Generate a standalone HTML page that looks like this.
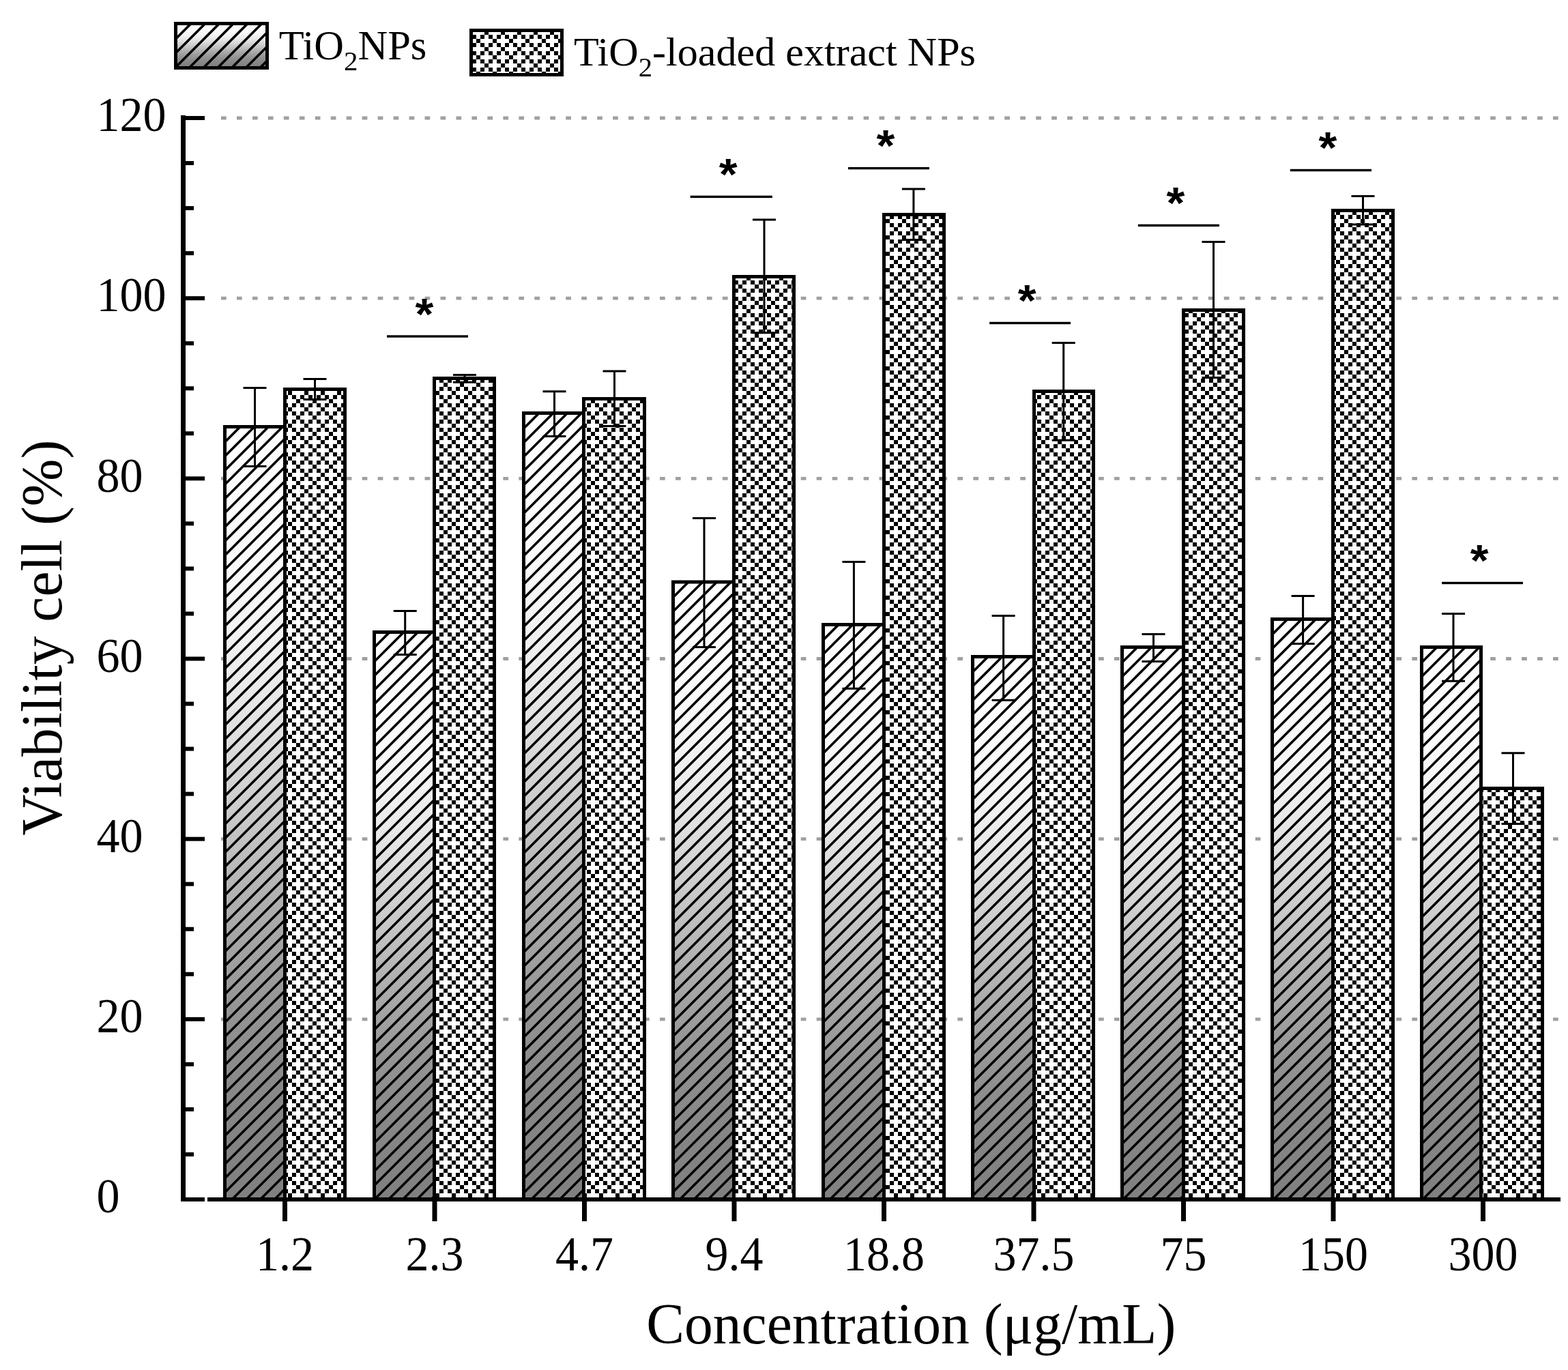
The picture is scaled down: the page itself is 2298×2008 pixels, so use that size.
<!DOCTYPE html><html><head><meta charset="utf-8"><title>Viability chart</title><style>html,body{margin:0;padding:0;background:#fff;overflow:hidden}svg{display:block}</style></head><body>
<svg width="2298" height="2008" viewBox="0 0 2298 2008">
<defs>
<linearGradient id="g" x1="0" y1="0" x2="0" y2="1"><stop offset="0.000" stop-color="#ffffff"/><stop offset="0.050" stop-color="#fefefe"/><stop offset="0.100" stop-color="#fdfdfd"/><stop offset="0.150" stop-color="#fbfbfb"/><stop offset="0.200" stop-color="#f9f9f9"/><stop offset="0.250" stop-color="#f5f5f5"/><stop offset="0.300" stop-color="#efefef"/><stop offset="0.350" stop-color="#e8e8e8"/><stop offset="0.400" stop-color="#dfdfdf"/><stop offset="0.450" stop-color="#d5d5d5"/><stop offset="0.500" stop-color="#cacaca"/><stop offset="0.550" stop-color="#bfbfbf"/><stop offset="0.600" stop-color="#b3b3b3"/><stop offset="0.650" stop-color="#a8a8a8"/><stop offset="0.700" stop-color="#9e9e9e"/><stop offset="0.750" stop-color="#959595"/><stop offset="0.800" stop-color="#8e8e8e"/><stop offset="0.850" stop-color="#898989"/><stop offset="0.900" stop-color="#858585"/><stop offset="0.950" stop-color="#828282"/><stop offset="1.000" stop-color="#808080"/></linearGradient>
<pattern id="ck" patternUnits="userSpaceOnUse" x="2" y="9" width="24" height="24"><rect width="24" height="24" fill="#fff"/><path d="M0 0h6v6H0zM6 6h6v6H6zM18 6h6v6h-6zM12 12h6v6h-6zM6 18h6v6H6zM18 18h6v6h-6z" fill="#000"/></pattern>
</defs>
<rect width="100%" height="100%" fill="#fff"/>
<line x1="324" y1="1493.83" x2="2286" y2="1493.83" stroke="#a0a0a0" stroke-width="4.8" stroke-dasharray="7.7 15.265"/>
<line x1="324" y1="1229.67" x2="2286" y2="1229.67" stroke="#a0a0a0" stroke-width="4.8" stroke-dasharray="7.7 15.265"/>
<line x1="324" y1="965.50" x2="2286" y2="965.50" stroke="#a0a0a0" stroke-width="4.8" stroke-dasharray="7.7 15.265"/>
<line x1="324" y1="701.34" x2="2286" y2="701.34" stroke="#a0a0a0" stroke-width="4.8" stroke-dasharray="7.7 15.265"/>
<line x1="324" y1="437.17" x2="2286" y2="437.17" stroke="#a0a0a0" stroke-width="4.8" stroke-dasharray="7.7 15.265"/>
<line x1="324" y1="173.00" x2="2286" y2="173.00" stroke="#a0a0a0" stroke-width="4.8" stroke-dasharray="7.7 15.265"/>
<rect x="329.5" y="625.5" width="88.0" height="1132.0" fill="url(#g)"/>
<clipPath id="c0"><rect x="329.5" y="625.5" width="88.0" height="1132.0"/></clipPath>
<path clip-path="url(#c0)" d="M-846.2 1761.5L293.8 621.5M-825.5 1761.5L314.5 621.5M-804.8 1761.5L335.2 621.5M-784.0 1761.5L356.0 621.5M-763.2 1761.5L376.8 621.5M-742.5 1761.5L397.5 621.5M-721.8 1761.5L418.2 621.5M-701.0 1761.5L439.0 621.5M-680.2 1761.5L459.8 621.5M-659.5 1761.5L480.5 621.5M-638.8 1761.5L501.2 621.5M-618.0 1761.5L522.0 621.5M-597.2 1761.5L542.8 621.5M-576.5 1761.5L563.5 621.5M-555.8 1761.5L584.2 621.5M-535.0 1761.5L605.0 621.5M-514.2 1761.5L625.8 621.5M-493.5 1761.5L646.5 621.5M-472.8 1761.5L667.2 621.5M-452.0 1761.5L688.0 621.5M-431.2 1761.5L708.8 621.5M-410.5 1761.5L729.5 621.5M-389.8 1761.5L750.2 621.5M-369.0 1761.5L771.0 621.5M-348.2 1761.5L791.8 621.5M-327.5 1761.5L812.5 621.5M-306.8 1761.5L833.2 621.5M-286.0 1761.5L854.0 621.5M-265.2 1761.5L874.8 621.5M-244.5 1761.5L895.5 621.5M-223.8 1761.5L916.2 621.5M-203.0 1761.5L937.0 621.5M-182.2 1761.5L957.8 621.5M-161.5 1761.5L978.5 621.5M-140.8 1761.5L999.2 621.5M-120.0 1761.5L1020.0 621.5M-99.2 1761.5L1040.8 621.5M-78.5 1761.5L1061.5 621.5M-57.8 1761.5L1082.2 621.5M-37.0 1761.5L1103.0 621.5M-16.2 1761.5L1123.8 621.5M4.5 1761.5L1144.5 621.5M25.2 1761.5L1165.2 621.5M46.0 1761.5L1186.0 621.5M66.8 1761.5L1206.8 621.5M87.5 1761.5L1227.5 621.5M108.2 1761.5L1248.2 621.5M129.0 1761.5L1269.0 621.5M149.8 1761.5L1289.8 621.5M170.5 1761.5L1310.5 621.5M191.2 1761.5L1331.2 621.5M212.0 1761.5L1352.0 621.5M232.8 1761.5L1372.8 621.5M253.5 1761.5L1393.5 621.5M274.2 1761.5L1414.2 621.5M295.0 1761.5L1435.0 621.5M315.8 1761.5L1455.8 621.5M336.5 1761.5L1476.5 621.5M357.2 1761.5L1497.2 621.5M378.0 1761.5L1518.0 621.5M398.8 1761.5L1538.8 621.5M419.5 1761.5L1559.5 621.5M440.2 1761.5L1580.2 621.5" stroke="#000" stroke-width="3.6"/>
<rect x="329.5" y="625.5" width="88.0" height="1132.0" fill="none" stroke="#000" stroke-width="5"/>
<rect x="417.5" y="570.5" width="88.0" height="1187.0" fill="url(#ck)"/>
<rect x="417.5" y="570.5" width="88.0" height="1187.0" fill="none" stroke="#000" stroke-width="5"/>
<rect x="548.5" y="926.5" width="88.0" height="831.0" fill="url(#g)"/>
<clipPath id="c2"><rect x="548.5" y="926.5" width="88.0" height="831.0"/></clipPath>
<path clip-path="url(#c2)" d="M-326.2 1761.5L512.8 922.5M-305.5 1761.5L533.5 922.5M-284.8 1761.5L554.2 922.5M-264.0 1761.5L575.0 922.5M-243.2 1761.5L595.8 922.5M-222.5 1761.5L616.5 922.5M-201.8 1761.5L637.2 922.5M-181.0 1761.5L658.0 922.5M-160.2 1761.5L678.8 922.5M-139.5 1761.5L699.5 922.5M-118.8 1761.5L720.2 922.5M-98.0 1761.5L741.0 922.5M-77.2 1761.5L761.8 922.5M-56.5 1761.5L782.5 922.5M-35.8 1761.5L803.2 922.5M-15.0 1761.5L824.0 922.5M5.8 1761.5L844.8 922.5M26.5 1761.5L865.5 922.5M47.2 1761.5L886.2 922.5M68.0 1761.5L907.0 922.5M88.8 1761.5L927.8 922.5M109.5 1761.5L948.5 922.5M130.2 1761.5L969.2 922.5M151.0 1761.5L990.0 922.5M171.8 1761.5L1010.8 922.5M192.5 1761.5L1031.5 922.5M213.2 1761.5L1052.2 922.5M234.0 1761.5L1073.0 922.5M254.8 1761.5L1093.8 922.5M275.5 1761.5L1114.5 922.5M296.2 1761.5L1135.2 922.5M317.0 1761.5L1156.0 922.5M337.8 1761.5L1176.8 922.5M358.5 1761.5L1197.5 922.5M379.2 1761.5L1218.2 922.5M400.0 1761.5L1239.0 922.5M420.8 1761.5L1259.8 922.5M441.5 1761.5L1280.5 922.5M462.2 1761.5L1301.2 922.5M483.0 1761.5L1322.0 922.5M503.8 1761.5L1342.8 922.5M524.5 1761.5L1363.5 922.5M545.2 1761.5L1384.2 922.5M566.0 1761.5L1405.0 922.5M586.8 1761.5L1425.8 922.5M607.5 1761.5L1446.5 922.5M628.2 1761.5L1467.2 922.5M649.0 1761.5L1488.0 922.5M669.8 1761.5L1508.8 922.5" stroke="#000" stroke-width="3.6"/>
<rect x="548.5" y="926.5" width="88.0" height="831.0" fill="none" stroke="#000" stroke-width="5"/>
<rect x="636.5" y="554.5" width="88.0" height="1203.0" fill="url(#ck)"/>
<rect x="636.5" y="554.5" width="88.0" height="1203.0" fill="none" stroke="#000" stroke-width="5"/>
<rect x="767.5" y="605.5" width="88.0" height="1152.0" fill="url(#g)"/>
<clipPath id="c4"><rect x="767.5" y="605.5" width="88.0" height="1152.0"/></clipPath>
<path clip-path="url(#c4)" d="M-428.2 1761.5L731.8 601.5M-407.5 1761.5L752.5 601.5M-386.8 1761.5L773.2 601.5M-366.0 1761.5L794.0 601.5M-345.2 1761.5L814.8 601.5M-324.5 1761.5L835.5 601.5M-303.8 1761.5L856.2 601.5M-283.0 1761.5L877.0 601.5M-262.2 1761.5L897.8 601.5M-241.5 1761.5L918.5 601.5M-220.8 1761.5L939.2 601.5M-200.0 1761.5L960.0 601.5M-179.2 1761.5L980.8 601.5M-158.5 1761.5L1001.5 601.5M-137.8 1761.5L1022.2 601.5M-117.0 1761.5L1043.0 601.5M-96.2 1761.5L1063.8 601.5M-75.5 1761.5L1084.5 601.5M-54.8 1761.5L1105.2 601.5M-34.0 1761.5L1126.0 601.5M-13.2 1761.5L1146.8 601.5M7.5 1761.5L1167.5 601.5M28.2 1761.5L1188.2 601.5M49.0 1761.5L1209.0 601.5M69.8 1761.5L1229.8 601.5M90.5 1761.5L1250.5 601.5M111.2 1761.5L1271.2 601.5M132.0 1761.5L1292.0 601.5M152.8 1761.5L1312.8 601.5M173.5 1761.5L1333.5 601.5M194.2 1761.5L1354.2 601.5M215.0 1761.5L1375.0 601.5M235.8 1761.5L1395.8 601.5M256.5 1761.5L1416.5 601.5M277.2 1761.5L1437.2 601.5M298.0 1761.5L1458.0 601.5M318.8 1761.5L1478.8 601.5M339.5 1761.5L1499.5 601.5M360.2 1761.5L1520.2 601.5M381.0 1761.5L1541.0 601.5M401.8 1761.5L1561.8 601.5M422.5 1761.5L1582.5 601.5M443.2 1761.5L1603.2 601.5M464.0 1761.5L1624.0 601.5M484.8 1761.5L1644.8 601.5M505.5 1761.5L1665.5 601.5M526.2 1761.5L1686.2 601.5M547.0 1761.5L1707.0 601.5M567.8 1761.5L1727.8 601.5M588.5 1761.5L1748.5 601.5M609.2 1761.5L1769.2 601.5M630.0 1761.5L1790.0 601.5M650.8 1761.5L1810.8 601.5M671.5 1761.5L1831.5 601.5M692.2 1761.5L1852.2 601.5M713.0 1761.5L1873.0 601.5M733.8 1761.5L1893.8 601.5M754.5 1761.5L1914.5 601.5M775.2 1761.5L1935.2 601.5M796.0 1761.5L1956.0 601.5M816.8 1761.5L1976.8 601.5M837.5 1761.5L1997.5 601.5M858.2 1761.5L2018.2 601.5M879.0 1761.5L2039.0 601.5" stroke="#000" stroke-width="3.6"/>
<rect x="767.5" y="605.5" width="88.0" height="1152.0" fill="none" stroke="#000" stroke-width="5"/>
<rect x="855.5" y="584.5" width="89.0" height="1173.0" fill="url(#ck)"/>
<rect x="855.5" y="584.5" width="89.0" height="1173.0" fill="none" stroke="#000" stroke-width="5"/>
<rect x="986.5" y="853.0" width="89.0" height="904.5" fill="url(#g)"/>
<clipPath id="c6"><rect x="986.5" y="853.0" width="89.0" height="904.5"/></clipPath>
<path clip-path="url(#c6)" d="M38.2 1761.5L950.8 849.0M59.0 1761.5L971.5 849.0M79.8 1761.5L992.2 849.0M100.5 1761.5L1013.0 849.0M121.2 1761.5L1033.8 849.0M142.0 1761.5L1054.5 849.0M162.8 1761.5L1075.2 849.0M183.5 1761.5L1096.0 849.0M204.2 1761.5L1116.8 849.0M225.0 1761.5L1137.5 849.0M245.8 1761.5L1158.2 849.0M266.5 1761.5L1179.0 849.0M287.2 1761.5L1199.8 849.0M308.0 1761.5L1220.5 849.0M328.8 1761.5L1241.2 849.0M349.5 1761.5L1262.0 849.0M370.2 1761.5L1282.8 849.0M391.0 1761.5L1303.5 849.0M411.8 1761.5L1324.2 849.0M432.5 1761.5L1345.0 849.0M453.2 1761.5L1365.8 849.0M474.0 1761.5L1386.5 849.0M494.8 1761.5L1407.2 849.0M515.5 1761.5L1428.0 849.0M536.2 1761.5L1448.8 849.0M557.0 1761.5L1469.5 849.0M577.8 1761.5L1490.2 849.0M598.5 1761.5L1511.0 849.0M619.2 1761.5L1531.8 849.0M640.0 1761.5L1552.5 849.0M660.8 1761.5L1573.2 849.0M681.5 1761.5L1594.0 849.0M702.2 1761.5L1614.8 849.0M723.0 1761.5L1635.5 849.0M743.8 1761.5L1656.2 849.0M764.5 1761.5L1677.0 849.0M785.2 1761.5L1697.8 849.0M806.0 1761.5L1718.5 849.0M826.8 1761.5L1739.2 849.0M847.5 1761.5L1760.0 849.0M868.2 1761.5L1780.8 849.0M889.0 1761.5L1801.5 849.0M909.8 1761.5L1822.2 849.0M930.5 1761.5L1843.0 849.0M951.2 1761.5L1863.8 849.0M972.0 1761.5L1884.5 849.0M992.8 1761.5L1905.2 849.0M1013.5 1761.5L1926.0 849.0M1034.2 1761.5L1946.8 849.0M1055.0 1761.5L1967.5 849.0M1075.8 1761.5L1988.2 849.0M1096.5 1761.5L2009.0 849.0" stroke="#000" stroke-width="3.6"/>
<rect x="986.5" y="853.0" width="89.0" height="904.5" fill="none" stroke="#000" stroke-width="5"/>
<rect x="1075.5" y="405.5" width="88.0" height="1352.0" fill="url(#ck)"/>
<rect x="1075.5" y="405.5" width="88.0" height="1352.0" fill="none" stroke="#000" stroke-width="5"/>
<rect x="1206.5" y="915.5" width="89.0" height="842.0" fill="url(#g)"/>
<clipPath id="c8"><rect x="1206.5" y="915.5" width="89.0" height="842.0"/></clipPath>
<path clip-path="url(#c8)" d="M320.8 1761.5L1170.8 911.5M341.5 1761.5L1191.5 911.5M362.2 1761.5L1212.2 911.5M383.0 1761.5L1233.0 911.5M403.8 1761.5L1253.8 911.5M424.5 1761.5L1274.5 911.5M445.2 1761.5L1295.2 911.5M466.0 1761.5L1316.0 911.5M486.8 1761.5L1336.8 911.5M507.5 1761.5L1357.5 911.5M528.2 1761.5L1378.2 911.5M549.0 1761.5L1399.0 911.5M569.8 1761.5L1419.8 911.5M590.5 1761.5L1440.5 911.5M611.2 1761.5L1461.2 911.5M632.0 1761.5L1482.0 911.5M652.8 1761.5L1502.8 911.5M673.5 1761.5L1523.5 911.5M694.2 1761.5L1544.2 911.5M715.0 1761.5L1565.0 911.5M735.8 1761.5L1585.8 911.5M756.5 1761.5L1606.5 911.5M777.2 1761.5L1627.2 911.5M798.0 1761.5L1648.0 911.5M818.8 1761.5L1668.8 911.5M839.5 1761.5L1689.5 911.5M860.2 1761.5L1710.2 911.5M881.0 1761.5L1731.0 911.5M901.8 1761.5L1751.8 911.5M922.5 1761.5L1772.5 911.5M943.2 1761.5L1793.2 911.5M964.0 1761.5L1814.0 911.5M984.8 1761.5L1834.8 911.5M1005.5 1761.5L1855.5 911.5M1026.2 1761.5L1876.2 911.5M1047.0 1761.5L1897.0 911.5M1067.8 1761.5L1917.8 911.5M1088.5 1761.5L1938.5 911.5M1109.2 1761.5L1959.2 911.5M1130.0 1761.5L1980.0 911.5M1150.8 1761.5L2000.8 911.5M1171.5 1761.5L2021.5 911.5M1192.2 1761.5L2042.2 911.5M1213.0 1761.5L2063.0 911.5M1233.8 1761.5L2083.8 911.5M1254.5 1761.5L2104.5 911.5M1275.2 1761.5L2125.2 911.5M1296.0 1761.5L2146.0 911.5M1316.8 1761.5L2166.8 911.5" stroke="#000" stroke-width="3.6"/>
<rect x="1206.5" y="915.5" width="89.0" height="842.0" fill="none" stroke="#000" stroke-width="5"/>
<rect x="1295.5" y="314.5" width="88.0" height="1443.0" fill="url(#ck)"/>
<rect x="1295.5" y="314.5" width="88.0" height="1443.0" fill="none" stroke="#000" stroke-width="5"/>
<rect x="1425.5" y="962.5" width="90.0" height="795.0" fill="url(#g)"/>
<clipPath id="c10"><rect x="1425.5" y="962.5" width="90.0" height="795.0"/></clipPath>
<path clip-path="url(#c10)" d="M586.8 1761.5L1389.8 958.5M607.5 1761.5L1410.5 958.5M628.2 1761.5L1431.2 958.5M649.0 1761.5L1452.0 958.5M669.8 1761.5L1472.8 958.5M690.5 1761.5L1493.5 958.5M711.2 1761.5L1514.2 958.5M732.0 1761.5L1535.0 958.5M752.8 1761.5L1555.8 958.5M773.5 1761.5L1576.5 958.5M794.2 1761.5L1597.2 958.5M815.0 1761.5L1618.0 958.5M835.8 1761.5L1638.8 958.5M856.5 1761.5L1659.5 958.5M877.2 1761.5L1680.2 958.5M898.0 1761.5L1701.0 958.5M918.8 1761.5L1721.8 958.5M939.5 1761.5L1742.5 958.5M960.2 1761.5L1763.2 958.5M981.0 1761.5L1784.0 958.5M1001.8 1761.5L1804.8 958.5M1022.5 1761.5L1825.5 958.5M1043.2 1761.5L1846.2 958.5M1064.0 1761.5L1867.0 958.5M1084.8 1761.5L1887.8 958.5M1105.5 1761.5L1908.5 958.5M1126.2 1761.5L1929.2 958.5M1147.0 1761.5L1950.0 958.5M1167.8 1761.5L1970.8 958.5M1188.5 1761.5L1991.5 958.5M1209.2 1761.5L2012.2 958.5M1230.0 1761.5L2033.0 958.5M1250.8 1761.5L2053.8 958.5M1271.5 1761.5L2074.5 958.5M1292.2 1761.5L2095.2 958.5M1313.0 1761.5L2116.0 958.5M1333.8 1761.5L2136.8 958.5M1354.5 1761.5L2157.5 958.5M1375.2 1761.5L2178.2 958.5M1396.0 1761.5L2199.0 958.5M1416.8 1761.5L2219.8 958.5M1437.5 1761.5L2240.5 958.5M1458.2 1761.5L2261.2 958.5M1479.0 1761.5L2282.0 958.5M1499.8 1761.5L2302.8 958.5M1520.5 1761.5L2323.5 958.5M1541.2 1761.5L2344.2 958.5" stroke="#000" stroke-width="3.6"/>
<rect x="1425.5" y="962.5" width="90.0" height="795.0" fill="none" stroke="#000" stroke-width="5"/>
<rect x="1515.5" y="573.5" width="87.0" height="1184.0" fill="url(#ck)"/>
<rect x="1515.5" y="573.5" width="87.0" height="1184.0" fill="none" stroke="#000" stroke-width="5"/>
<rect x="1644.5" y="948.5" width="90.0" height="809.0" fill="url(#g)"/>
<clipPath id="c12"><rect x="1644.5" y="948.5" width="90.0" height="809.0"/></clipPath>
<path clip-path="url(#c12)" d="M791.8 1761.5L1608.8 944.5M812.5 1761.5L1629.5 944.5M833.2 1761.5L1650.2 944.5M854.0 1761.5L1671.0 944.5M874.8 1761.5L1691.8 944.5M895.5 1761.5L1712.5 944.5M916.2 1761.5L1733.2 944.5M937.0 1761.5L1754.0 944.5M957.8 1761.5L1774.8 944.5M978.5 1761.5L1795.5 944.5M999.2 1761.5L1816.2 944.5M1020.0 1761.5L1837.0 944.5M1040.8 1761.5L1857.8 944.5M1061.5 1761.5L1878.5 944.5M1082.2 1761.5L1899.2 944.5M1103.0 1761.5L1920.0 944.5M1123.8 1761.5L1940.8 944.5M1144.5 1761.5L1961.5 944.5M1165.2 1761.5L1982.2 944.5M1186.0 1761.5L2003.0 944.5M1206.8 1761.5L2023.8 944.5M1227.5 1761.5L2044.5 944.5M1248.2 1761.5L2065.2 944.5M1269.0 1761.5L2086.0 944.5M1289.8 1761.5L2106.8 944.5M1310.5 1761.5L2127.5 944.5M1331.2 1761.5L2148.2 944.5M1352.0 1761.5L2169.0 944.5M1372.8 1761.5L2189.8 944.5M1393.5 1761.5L2210.5 944.5M1414.2 1761.5L2231.2 944.5M1435.0 1761.5L2252.0 944.5M1455.8 1761.5L2272.8 944.5M1476.5 1761.5L2293.5 944.5M1497.2 1761.5L2314.2 944.5M1518.0 1761.5L2335.0 944.5M1538.8 1761.5L2355.8 944.5M1559.5 1761.5L2376.5 944.5M1580.2 1761.5L2397.2 944.5M1601.0 1761.5L2418.0 944.5M1621.8 1761.5L2438.8 944.5M1642.5 1761.5L2459.5 944.5M1663.2 1761.5L2480.2 944.5M1684.0 1761.5L2501.0 944.5M1704.8 1761.5L2521.8 944.5M1725.5 1761.5L2542.5 944.5M1746.2 1761.5L2563.2 944.5M1767.0 1761.5L2584.0 944.5" stroke="#000" stroke-width="3.6"/>
<rect x="1644.5" y="948.5" width="90.0" height="809.0" fill="none" stroke="#000" stroke-width="5"/>
<rect x="1734.5" y="454.5" width="88.0" height="1303.0" fill="url(#ck)"/>
<rect x="1734.5" y="454.5" width="88.0" height="1303.0" fill="none" stroke="#000" stroke-width="5"/>
<rect x="1864.5" y="907.5" width="89.0" height="850.0" fill="url(#g)"/>
<clipPath id="c14"><rect x="1864.5" y="907.5" width="89.0" height="850.0"/></clipPath>
<path clip-path="url(#c14)" d="M970.8 1761.5L1828.8 903.5M991.5 1761.5L1849.5 903.5M1012.2 1761.5L1870.2 903.5M1033.0 1761.5L1891.0 903.5M1053.8 1761.5L1911.8 903.5M1074.5 1761.5L1932.5 903.5M1095.2 1761.5L1953.2 903.5M1116.0 1761.5L1974.0 903.5M1136.8 1761.5L1994.8 903.5M1157.5 1761.5L2015.5 903.5M1178.2 1761.5L2036.2 903.5M1199.0 1761.5L2057.0 903.5M1219.8 1761.5L2077.8 903.5M1240.5 1761.5L2098.5 903.5M1261.2 1761.5L2119.2 903.5M1282.0 1761.5L2140.0 903.5M1302.8 1761.5L2160.8 903.5M1323.5 1761.5L2181.5 903.5M1344.2 1761.5L2202.2 903.5M1365.0 1761.5L2223.0 903.5M1385.8 1761.5L2243.8 903.5M1406.5 1761.5L2264.5 903.5M1427.2 1761.5L2285.2 903.5M1448.0 1761.5L2306.0 903.5M1468.8 1761.5L2326.8 903.5M1489.5 1761.5L2347.5 903.5M1510.2 1761.5L2368.2 903.5M1531.0 1761.5L2389.0 903.5M1551.8 1761.5L2409.8 903.5M1572.5 1761.5L2430.5 903.5M1593.2 1761.5L2451.2 903.5M1614.0 1761.5L2472.0 903.5M1634.8 1761.5L2492.8 903.5M1655.5 1761.5L2513.5 903.5M1676.2 1761.5L2534.2 903.5M1697.0 1761.5L2555.0 903.5M1717.8 1761.5L2575.8 903.5M1738.5 1761.5L2596.5 903.5M1759.2 1761.5L2617.2 903.5M1780.0 1761.5L2638.0 903.5M1800.8 1761.5L2658.8 903.5M1821.5 1761.5L2679.5 903.5M1842.2 1761.5L2700.2 903.5M1863.0 1761.5L2721.0 903.5M1883.8 1761.5L2741.8 903.5M1904.5 1761.5L2762.5 903.5M1925.2 1761.5L2783.2 903.5M1946.0 1761.5L2804.0 903.5M1966.8 1761.5L2824.8 903.5M1987.5 1761.5L2845.5 903.5" stroke="#000" stroke-width="3.6"/>
<rect x="1864.5" y="907.5" width="89.0" height="850.0" fill="none" stroke="#000" stroke-width="5"/>
<rect x="1953.5" y="308.5" width="88.0" height="1449.0" fill="url(#ck)"/>
<rect x="1953.5" y="308.5" width="88.0" height="1449.0" fill="none" stroke="#000" stroke-width="5"/>
<rect x="2083.5" y="948.5" width="87.0" height="809.0" fill="url(#g)"/>
<clipPath id="c16"><rect x="2083.5" y="948.5" width="87.0" height="809.0"/></clipPath>
<path clip-path="url(#c16)" d="M1230.8 1761.5L2047.8 944.5M1251.5 1761.5L2068.5 944.5M1272.2 1761.5L2089.2 944.5M1293.0 1761.5L2110.0 944.5M1313.8 1761.5L2130.8 944.5M1334.5 1761.5L2151.5 944.5M1355.2 1761.5L2172.2 944.5M1376.0 1761.5L2193.0 944.5M1396.8 1761.5L2213.8 944.5M1417.5 1761.5L2234.5 944.5M1438.2 1761.5L2255.2 944.5M1459.0 1761.5L2276.0 944.5M1479.8 1761.5L2296.8 944.5M1500.5 1761.5L2317.5 944.5M1521.2 1761.5L2338.2 944.5M1542.0 1761.5L2359.0 944.5M1562.8 1761.5L2379.8 944.5M1583.5 1761.5L2400.5 944.5M1604.2 1761.5L2421.2 944.5M1625.0 1761.5L2442.0 944.5M1645.8 1761.5L2462.8 944.5M1666.5 1761.5L2483.5 944.5M1687.2 1761.5L2504.2 944.5M1708.0 1761.5L2525.0 944.5M1728.8 1761.5L2545.8 944.5M1749.5 1761.5L2566.5 944.5M1770.2 1761.5L2587.2 944.5M1791.0 1761.5L2608.0 944.5M1811.8 1761.5L2628.8 944.5M1832.5 1761.5L2649.5 944.5M1853.2 1761.5L2670.2 944.5M1874.0 1761.5L2691.0 944.5M1894.8 1761.5L2711.8 944.5M1915.5 1761.5L2732.5 944.5M1936.2 1761.5L2753.2 944.5M1957.0 1761.5L2774.0 944.5M1977.8 1761.5L2794.8 944.5M1998.5 1761.5L2815.5 944.5M2019.2 1761.5L2836.2 944.5M2040.0 1761.5L2857.0 944.5M2060.8 1761.5L2877.8 944.5M2081.5 1761.5L2898.5 944.5M2102.2 1761.5L2919.2 944.5M2123.0 1761.5L2940.0 944.5M2143.8 1761.5L2960.8 944.5M2164.5 1761.5L2981.5 944.5M2185.2 1761.5L3002.2 944.5M2206.0 1761.5L3023.0 944.5" stroke="#000" stroke-width="3.6"/>
<rect x="2083.5" y="948.5" width="87.0" height="809.0" fill="none" stroke="#000" stroke-width="5"/>
<rect x="2170.5" y="1155.5" width="90.0" height="602.0" fill="url(#ck)"/>
<rect x="2170.5" y="1155.5" width="90.0" height="602.0" fill="none" stroke="#000" stroke-width="5"/>
<path d="M373.5 568.5V683.4M356.5 568.5h34M356.5 683.4h34" stroke="#000" stroke-width="3" fill="none"/>
<path d="M593.7 895.6V959.5M576.7 895.6h34M576.7 959.5h34" stroke="#000" stroke-width="3" fill="none"/>
<path d="M812.5 573.7V639.5M795.5 573.7h34M795.5 639.5h34" stroke="#000" stroke-width="3" fill="none"/>
<path d="M1032.0 759.5V948.4M1015.0 759.5h34M1015.0 948.4h34" stroke="#000" stroke-width="3" fill="none"/>
<path d="M1251.4 823.5V1009.3M1234.4 823.5h34M1234.4 1009.3h34" stroke="#000" stroke-width="3" fill="none"/>
<path d="M1470.6 902.5V1026.3M1453.6 902.5h34M1453.6 1026.3h34" stroke="#000" stroke-width="3" fill="none"/>
<path d="M1690.5 929.6V969.6M1673.5 929.6h34M1673.5 969.6h34" stroke="#000" stroke-width="3" fill="none"/>
<path d="M1909.6 873.6V943.4M1892.6 873.6h34M1892.6 943.4h34" stroke="#000" stroke-width="3" fill="none"/>
<path d="M2130.0 899.5V998.3M2113.0 899.5h34M2113.0 998.3h34" stroke="#000" stroke-width="3" fill="none"/>
<path d="M461.5 555.5V585.6M444.5 555.5h34M444.5 585.6h34" stroke="#000" stroke-width="3" fill="none"/>
<path d="M681.0 549.5V560.2M664.0 549.5h34M664.0 560.2h34" stroke="#000" stroke-width="3" fill="none"/>
<path d="M900.5 544.1V624.5M883.5 544.1h34M883.5 624.5h34" stroke="#000" stroke-width="3" fill="none"/>
<path d="M1120.0 321.9V487.7M1103.0 321.9h34M1103.0 487.7h34" stroke="#000" stroke-width="3" fill="none"/>
<path d="M1338.9 276.9V351.5M1321.9 276.9h34M1321.9 351.5h34" stroke="#000" stroke-width="3" fill="none"/>
<path d="M1558.7 502.6V645.3M1541.7 502.6h34M1541.7 645.3h34" stroke="#000" stroke-width="3" fill="none"/>
<path d="M1778.5 354.4V553.4M1761.5 354.4h34M1761.5 553.4h34" stroke="#000" stroke-width="3" fill="none"/>
<path d="M1997.5 287.6V329.0M1980.5 287.6h34M1980.5 329.0h34" stroke="#000" stroke-width="3" fill="none"/>
<path d="M2217.5 1103.7V1207.5M2200.5 1103.7h34M2200.5 1207.5h34" stroke="#000" stroke-width="3" fill="none"/>
<rect x="265" y="169" width="7" height="1592" fill="#000"/>
<rect x="304" y="1755" width="1983" height="6" fill="#000"/>
<rect x="265" y="1755.00" width="35" height="6" fill="#000"/>
<rect x="265" y="1688.96" width="19" height="6" fill="#000"/>
<rect x="265" y="1622.92" width="19" height="6" fill="#000"/>
<rect x="265" y="1556.88" width="19" height="6" fill="#000"/>
<rect x="265" y="1490.83" width="35" height="6" fill="#000"/>
<rect x="265" y="1424.79" width="19" height="6" fill="#000"/>
<rect x="265" y="1358.75" width="19" height="6" fill="#000"/>
<rect x="265" y="1292.71" width="19" height="6" fill="#000"/>
<rect x="265" y="1226.67" width="35" height="6" fill="#000"/>
<rect x="265" y="1160.63" width="19" height="6" fill="#000"/>
<rect x="265" y="1094.59" width="19" height="6" fill="#000"/>
<rect x="265" y="1028.54" width="19" height="6" fill="#000"/>
<rect x="265" y="962.50" width="35" height="6" fill="#000"/>
<rect x="265" y="896.46" width="19" height="6" fill="#000"/>
<rect x="265" y="830.42" width="19" height="6" fill="#000"/>
<rect x="265" y="764.38" width="19" height="6" fill="#000"/>
<rect x="265" y="698.34" width="35" height="6" fill="#000"/>
<rect x="265" y="632.29" width="19" height="6" fill="#000"/>
<rect x="265" y="566.25" width="19" height="6" fill="#000"/>
<rect x="265" y="500.21" width="19" height="6" fill="#000"/>
<rect x="265" y="434.17" width="35" height="6" fill="#000"/>
<rect x="265" y="368.13" width="19" height="6" fill="#000"/>
<rect x="265" y="302.09" width="19" height="6" fill="#000"/>
<rect x="265" y="236.05" width="19" height="6" fill="#000"/>
<rect x="265" y="170.00" width="35" height="6" fill="#000"/>
<rect x="414.0" y="1755" width="7" height="35" fill="#000"/>
<rect x="633.5" y="1755" width="7" height="35" fill="#000"/>
<rect x="853.0" y="1755" width="7" height="35" fill="#000"/>
<rect x="1072.5" y="1755" width="7" height="35" fill="#000"/>
<rect x="1292.0" y="1755" width="7" height="35" fill="#000"/>
<rect x="1511.5" y="1755" width="7" height="35" fill="#000"/>
<rect x="1731.0" y="1755" width="7" height="35" fill="#000"/>
<rect x="1950.5" y="1755" width="7" height="35" fill="#000"/>
<rect x="2170.0" y="1755" width="7" height="35" fill="#000"/>
<g font-family="Liberation Serif, Times New Roman, serif" fill="#000">
<text transform="translate(141.5 1777.2) scale(1 1.05)" font-size="68">0</text>
<text transform="translate(141.5 1513.0) scale(1 1.05)" font-size="68">20</text>
<text transform="translate(141.5 1248.9) scale(1 1.05)" font-size="68">40</text>
<text transform="translate(141.5 984.7) scale(1 1.05)" font-size="68">60</text>
<text transform="translate(141.5 720.5) scale(1 1.05)" font-size="68">80</text>
<text transform="translate(141.5 456.4) scale(1 1.05)" font-size="68">100</text>
<text transform="translate(141.5 192.2) scale(1 1.05)" font-size="68">120</text>
<text transform="translate(417.5 1862) scale(1 1.05)" font-size="68" text-anchor="middle">1.2</text>
<text transform="translate(637.0 1862) scale(1 1.05)" font-size="68" text-anchor="middle">2.3</text>
<text transform="translate(856.5 1862) scale(1 1.05)" font-size="68" text-anchor="middle">4.7</text>
<text transform="translate(1076.0 1862) scale(1 1.05)" font-size="68" text-anchor="middle">9.4</text>
<text transform="translate(1295.5 1862) scale(1 1.05)" font-size="68" text-anchor="middle">18.8</text>
<text transform="translate(1515.0 1862) scale(1 1.05)" font-size="68" text-anchor="middle">37.5</text>
<text transform="translate(1734.5 1862) scale(1 1.05)" font-size="68" text-anchor="middle">75</text>
<text transform="translate(1954.0 1862) scale(1 1.05)" font-size="68" text-anchor="middle">150</text>
<text transform="translate(2173.5 1862) scale(1 1.05)" font-size="68" text-anchor="middle">300</text>
<text x="947.2" y="1969" font-size="83.6">Concentration (μg/mL)</text>
<text transform="translate(89.5 1224.7) rotate(-90)" font-size="83.6">Viability cell (%)</text>
<text x="408.7" y="87.3" font-size="60.5">TiO<tspan font-size="41" dy="15.8">2</tspan><tspan dy="-15.8">NPs</tspan></text>
<text x="841" y="96" font-size="60.1">TiO<tspan font-size="40.7" dy="15.7">2</tspan><tspan dy="-15.7">-loaded extract NPs</tspan></text>
</g>
<rect x="257.5" y="34.5" width="134" height="65" fill="url(#g)"/>
<clipPath id="cl0"><rect x="257.5" y="34.5" width="134" height="65"/></clipPath>
<path clip-path="url(#cl0)" d="M148.8 103.5L221.8 30.5M169.5 103.5L242.5 30.5M190.2 103.5L263.2 30.5M211.0 103.5L284.0 30.5M231.8 103.5L304.8 30.5M252.5 103.5L325.5 30.5M273.2 103.5L346.2 30.5M294.0 103.5L367.0 30.5M314.8 103.5L387.8 30.5M335.5 103.5L408.5 30.5M356.2 103.5L429.2 30.5M377.0 103.5L450.0 30.5M397.8 103.5L470.8 30.5M418.5 103.5L491.5 30.5" stroke="#000" stroke-width="3.6"/>
<rect x="257.5" y="34.5" width="134" height="65" fill="none" stroke="#000" stroke-width="5"/>
<rect x="690.5" y="44.5" width="133" height="65" fill="url(#ck)"/>
<rect x="690.5" y="44.5" width="133" height="65" fill="none" stroke="#000" stroke-width="5"/>
<g font-family="Liberation Sans, Arial, sans-serif" font-weight="bold" font-size="64" text-anchor="middle" fill="#000">
<rect x="567.0" y="491.3" width="119.0" height="3.4" fill="#000"/>
<text transform="translate(622.0 482.7) scale(1.078 1)">*</text>
<rect x="1011.6" y="286.7" width="120.3" height="3.4" fill="#000"/>
<text transform="translate(1067.2 278.1) scale(1.078 1)">*</text>
<rect x="1243.0" y="244.9" width="119.0" height="3.4" fill="#000"/>
<text transform="translate(1298.0 236.3) scale(1.078 1)">*</text>
<rect x="1450.1" y="471.8" width="119.0" height="3.4" fill="#000"/>
<text transform="translate(1505.1 463.2) scale(1.078 1)">*</text>
<rect x="1667.9" y="328.7" width="119.1" height="3.4" fill="#000"/>
<text transform="translate(1723.0 320.1) scale(1.078 1)">*</text>
<rect x="1890.9" y="247.8" width="119.1" height="3.4" fill="#000"/>
<text transform="translate(1946.0 239.2) scale(1.078 1)">*</text>
<rect x="2113.1" y="852.8" width="118.9" height="3.4" fill="#000"/>
<text transform="translate(2168.1 844.2) scale(1.078 1)">*</text>
</g>
</svg></body></html>
